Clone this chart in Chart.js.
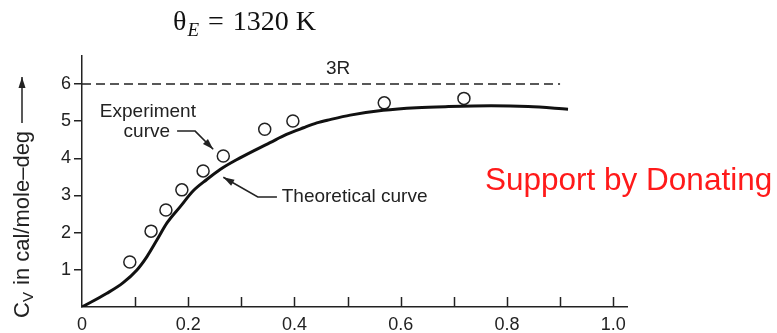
<!DOCTYPE html>
<html lang="en">
<head>
    <meta charset="UTF-8">
    <title>Einstein heat capacity, theta E = 1320 K</title>
    <script src="https://cdn.jsdelivr.net/npm/chart.js"></script>
    <style>
        body {
            margin: 0;
            background: #fff;
        }
        canvas {
            display: block;
        }
    </style>
</head>
<body>
    <canvas id="grafico" width="777" height="333"></canvas>

    <script>
        // T / theta_E on the x axis, Cv (cal/mole-deg) on the y axis
        const theoX = [0, 0.047, 0.077, 0.103, 0.122, 0.141, 0.160, 0.185, 0.209, 0.235, 0.260, 0.291, 0.323, 0.354, 0.385, 0.417, 0.442, 0.467, 0.505, 0.567, 0.630, 0.690, 0.770, 0.840, 0.915];
        const theoY = [0, 0.37, 0.65, 0.99, 1.35, 1.80, 2.26, 2.70, 3.12, 3.43, 3.70, 3.96, 4.20, 4.42, 4.64, 4.82, 4.95, 5.04, 5.16, 5.29, 5.36, 5.39, 5.41, 5.39, 5.32];

        const expX = [0.090, 0.130, 0.158, 0.188, 0.228, 0.266, 0.344, 0.397, 0.569, 0.719];
        const expY = [1.21, 2.04, 2.61, 3.15, 3.66, 4.06, 4.78, 5.00, 5.49, 5.61];

        const limitX = [0, 0.90];
        const limitY = [6, 6];

        const xTicks = [0, 0.1, 0.2, 0.3, 0.4, 0.5, 0.6, 0.7, 0.8, 0.9, 1.0];
        const xTickLabels = ["0", "", "0.2", "", "0.4", "", "0.6", "", "0.8", "", "1.0"];
        const yTicks = [1, 2, 3, 4, 5, 6];

        const tinta = "#222";
        const fonte = "'Liberation Sans', Arial, sans-serif";
        const serifa = "'Liberation Serif', 'DejaVu Serif', serif";

        function seta(ctx, pts, cor) {
            ctx.save();
            ctx.strokeStyle = cor;
            ctx.fillStyle = cor;
            ctx.lineWidth = 1.5;
            ctx.beginPath();
            ctx.moveTo(pts[0][0], pts[0][1]);
            for (let i = 1; i < pts.length; i++) ctx.lineTo(pts[i][0], pts[i][1]);
            ctx.stroke();
            // ponta da seta
            const [x1, y1] = pts[pts.length - 2];
            const [x2, y2] = pts[pts.length - 1];
            const ang = Math.atan2(y2 - y1, x2 - x1);
            ctx.beginPath();
            ctx.moveTo(x2, y2);
            ctx.lineTo(x2 - 11 * Math.cos(ang) + 3.5 * Math.sin(ang), y2 - 11 * Math.sin(ang) - 3.5 * Math.cos(ang));
            ctx.lineTo(x2 - 11 * Math.cos(ang) - 3.5 * Math.sin(ang), y2 - 11 * Math.sin(ang) + 3.5 * Math.cos(ang));
            ctx.closePath();
            ctx.fill();
            ctx.restore();
        }

        const extras = {
            id: "extras",
            afterDraw(chart) {
                const ctx = chart.ctx;
                const sx = chart.scales.x, sy = chart.scales.y;
                const px = (x, y) => [sx.getPixelForValue(x), sy.getPixelForValue(y)];
                const area = chart.chartArea;

                ctx.save();
                // ticks do eixo x, para dentro
                ctx.strokeStyle = tinta;
                ctx.lineWidth = 1.5;
                xTicks.forEach(v => {
                    if (v === 0) return;
                    const x = Math.round(sx.getPixelForValue(v)) + 0.5;
                    ctx.beginPath();
                    ctx.moveTo(x, area.bottom);
                    ctx.lineTo(x, area.bottom - 10);
                    ctx.stroke();
                });

                // título: theta_E = 1320 K
                ctx.fillStyle = "#111";
                ctx.textBaseline = "alphabetic";
                ctx.textAlign = "left";
                let tx = 173;
                const ty = 30;
                ctx.font = "28px " + serifa;
                ctx.fillText("θ", tx, ty);
                tx += ctx.measureText("θ").width + 1;
                ctx.font = "italic 19px " + serifa;
                ctx.fillText("E", tx, ty + 6);
                tx += ctx.measureText("E").width + 9;
                ctx.font = "28px " + serifa;
                ctx.fillText("=", tx, ty);
                tx += ctx.measureText("=").width + 9;
                ctx.fillText("1320 K", tx, ty);

                // rótulo do eixo y
                ctx.save();
                ctx.translate(29, 318);
                ctx.rotate(-Math.PI / 2);
                ctx.fillStyle = tinta;
                let lx = 0;
                ctx.font = "22px " + fonte;
                ctx.fillText("C", lx, 0);
                lx += ctx.measureText("C").width;
                ctx.font = "15px " + fonte;
                ctx.fillText("V", lx, 4);
                lx += ctx.measureText("V").width + 1;
                ctx.font = "22px " + fonte;
                const resto = " in cal/mole–deg";
                ctx.fillText(resto, lx, 0);
                lx += ctx.measureText(resto).width + 8;
                ctx.restore();
                const topoSeta = 318 - lx;
                seta(ctx, [[22, topoSeta], [22, topoSeta - 46]], tinta);

                // textos das curvas
                ctx.fillStyle = tinta;
                ctx.font = "19px " + fonte;
                ctx.textAlign = "center";
                ctx.textBaseline = "middle";
                let p = px(0.482, 6.40);
                ctx.fillText("3R", p[0], p[1]);
                p = px(0.124, 5.24);
                ctx.fillText("Experiment", p[0], p[1]);
                p = px(0.122, 4.70);
                ctx.fillText("curve", p[0], p[1]);
                ctx.textAlign = "left";
                p = px(0.376, 2.96);
                ctx.fillText("Theoretical curve", p[0], p[1]);

                seta(ctx, [px(0.179, 4.73), px(0.213, 4.73), px(0.247, 4.24)], tinta);
                seta(ctx, [px(0.367, 2.96), px(0.331, 2.96), px(0.266, 3.49)], tinta);

                // texto vermelho
                ctx.fillStyle = "#ff1a1a";
                ctx.font = "31.5px " + fonte;
                ctx.textAlign = "left";
                ctx.textBaseline = "alphabetic";
                ctx.fillText("Support by Donating", 485, 190);
                ctx.restore();
            }
        };

        const ctx = document.getElementById("grafico").getContext("2d");
        const grafico = new Chart(ctx, {
            type: "scatter",
            data: {
                datasets: [
                    {
                        label: "Theoretical curve",
                        type: "line",
                        data: theoX.map((x, i) => ({ x: x, y: theoY[i] })),
                        borderColor: "#111",
                        borderWidth: 3,
                        pointRadius: 0,
                        cubicInterpolationMode: "monotone",
                        fill: false
                    },
                    {
                        label: "Experiment curve",
                        data: expX.map((x, i) => ({ x: x, y: expY[i] })),
                        pointStyle: "circle",
                        pointRadius: 6,
                        borderColor: "#222",
                        borderWidth: 1.5,
                        backgroundColor: "rgba(255,255,255,0)"
                    },
                    {
                        label: "3R",
                        type: "line",
                        data: limitX.map((x, i) => ({ x: x, y: limitY[i] })),
                        borderColor: "#222",
                        borderWidth: 1.5,
                        borderDash: [9, 5],
                        pointRadius: 0,
                        fill: false
                    }
                ]
            },
            options: {
                responsive: false,
                devicePixelRatio: 1,
                animation: false,
                layout: { padding: { top: 56, right: 150, left: 0, bottom: 0 } },
                plugins: {
                    legend: { display: false },
                    tooltip: { enabled: false }
                },
                scales: {
                    x: {
                        type: "linear",
                        min: 0,
                        max: 1.026,
                        afterBuildTicks: s => { s.ticks = xTicks.map(v => ({ value: v })); },
                        afterFit: s => { s.height = 26; },
                        grid: { display: false, drawTicks: false },
                        border: { display: true, color: tinta, width: 1.5 },
                        ticks: {
                            autoSkip: false,
                            maxRotation: 0,
                            padding: 7,
                            color: tinta,
                            font: { family: fonte, size: 18 },
                            callback: (v, i) => xTickLabels[i]
                        }
                    },
                    y: {
                        type: "linear",
                        min: 0,
                        max: 6.75,
                        afterBuildTicks: s => { s.ticks = yTicks.map(v => ({ value: v })); },
                        afterFit: s => { s.width = 82; },
                        grid: {
                            drawOnChartArea: false,
                            drawTicks: true,
                            tickLength: 8,
                            color: tinta,
                            lineWidth: 1.5
                        },
                        border: { display: true, color: tinta, width: 1.5 },
                        ticks: {
                            padding: 3,
                            color: tinta,
                            font: { family: fonte, size: 18 },
                            callback: v => v
                        }
                    }
                }
            },
            plugins: [extras]
        });
    </script>
</body>
</html>
